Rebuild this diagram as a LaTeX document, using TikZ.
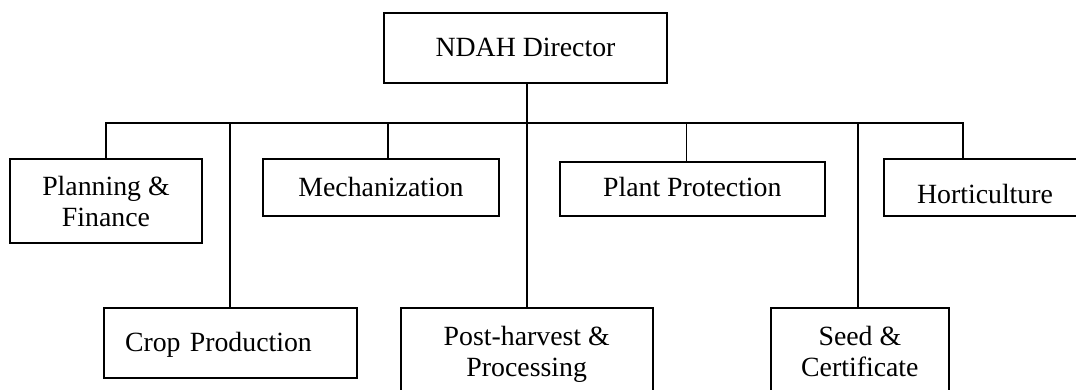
\documentclass[tikz,border=0pt]{standalone}
\usepackage{fontspec}
\setmainfont{Liberation Serif}
\begin{document}
\begin{tikzpicture}[x=1bp, y=-1bp,
  unit/.style={draw, line width=1.9bp, inner sep=0pt, align=center,
    font=\fontsize{27.8bp}{31.7bp}\selectfont},
  link/.style={line width=1.9bp}]
\useasboundingbox (0,0) rectangle (1076,389);

% director
\node[unit, minimum width=283bp, minimum height=70bp, text height=28.4bp, text depth=11.6bp]
  (dir) at (525.5,48.3) {NDAH Director};

% first row of units
\node[unit, minimum width=192bp, minimum height=83.4bp, text height=65.7bp, text depth=14.3bp]
  (plan) at (106,201) {Planning \&\\Finance};
\node[unit, minimum width=236bp, minimum height=56.7bp, text height=28.3bp, text depth=11.7bp]
  (mech) at (381,187.7) {Mechanization};
\node[unit, minimum width=264.6bp, minimum height=54.3bp, text height=27.85bp, text depth=12.15bp]
  (plant) at (692.3,188.85) {Plant Protection};
\node[unit, minimum width=202bp, minimum height=56.7bp, text height=35.6bp, text depth=4.4bp]
  (hort) at (985,187.7) {Horticulture};

% second row of units
\node[unit, align=left, text width=210.7bp, minimum width=252.7bp, minimum height=70bp,
  text height=28.4bp, text depth=11.6bp]
  (crop) at (230.35,343.3) {Crop Production};
\node[unit, minimum width=252bp, minimum height=91.7bp, text height=62.55bp, text depth=17.45bp]
  (post) at (526.7,354.15) {Post-harvest \&\\Processing};
\node[unit, minimum width=178.3bp, minimum height=91.7bp, text height=62.55bp, text depth=17.45bp]
  (seed) at (859.85,354.15) {Seed \&\\Certificate};

% connector lines
\coordinate (bus) at (0,123.3);
\coordinate (mechin) at ([xshift=7bp]mech.north);
\coordinate (plantin) at ([xshift=-5.8bp]plant.north);
\coordinate (hortin) at ([xshift=-22.3bp]hort.north);
\coordinate (seedin) at ([xshift=-1.5bp]seed.north);

\draw[link] (dir.south -| post.north) -- (post.north);
\draw[link] (plan.north) |- (hortin |- bus) -- (hortin);
\draw[link] (crop.north |- bus) -- (crop.north);
\draw[link] (mechin |- bus) -- (mechin);
\draw[link] (plantin |- bus) -- (plantin);
\draw[link] (seedin |- bus) -- (seedin);
\end{tikzpicture}
\end{document}
